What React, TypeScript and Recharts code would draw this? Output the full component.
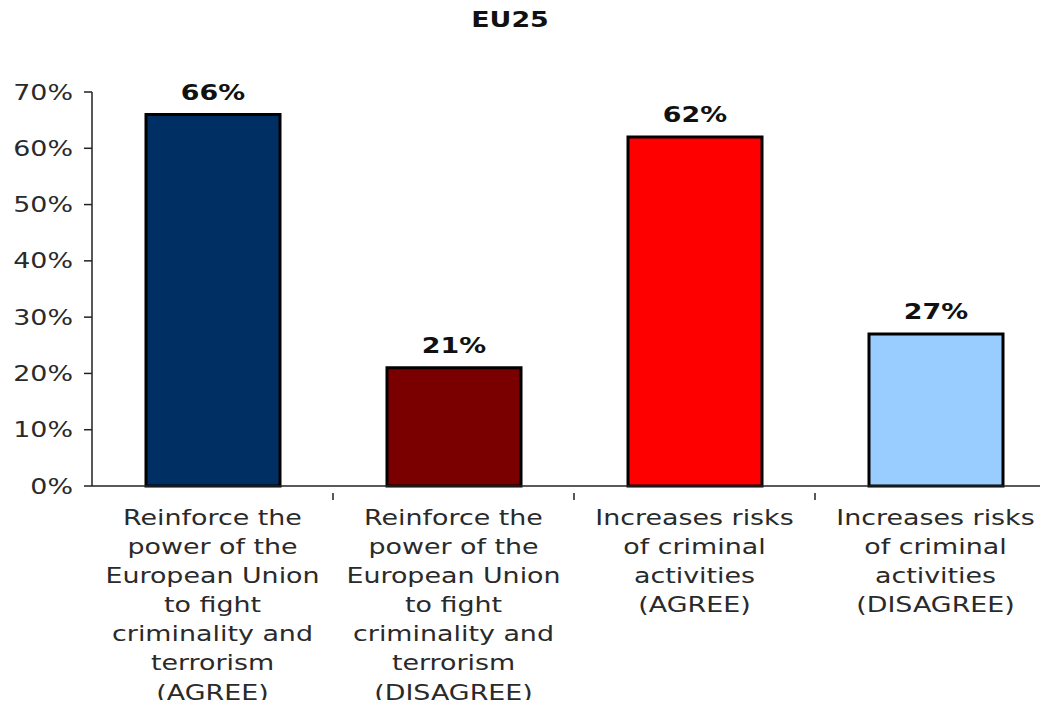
import React from "react";
import { BarChart, Bar, XAxis, YAxis, Cell, LabelList } from "recharts";

const categories = [
  ["Reinforce the", "power of the", "European Union", "to fight", "criminality and", "terrorism", "(AGREE)"],
  ["Reinforce the", "power of the", "European Union", "to fight", "criminality and", "terrorism", "(DISAGREE)"],
  ["Increases risks", "of criminal", "activities", "(AGREE)"],
  ["Increases risks", "of criminal", "activities", "(DISAGREE)"],
];
const values = [66, 21, 62, 27];
const yTicks = [0, 10, 20, 30, 40, 50, 60, 70];
const colors = ["#003063", "#7a0000", "#ff0000", "#99ccff"];

const data = values.map((v, i) => ({ name: String(i), value: v }));

const FONT = "Verdana, 'DejaVu Sans', sans-serif";
const SX = 1.28; // the reference text is drawn wide
const CHART_W = 1060;
const CHART_H = 708;
const PLOT_LEFT = 92;
const PLOT_RIGHT = 1056;
const band = (PLOT_RIGHT - PLOT_LEFT) / categories.length;

const CategoryTick = (props: any) => {
  const { x, y, payload, index } = props;
  const lines = categories[Number(payload.value)] || [];
  return (
    <g>
      {index < categories.length - 1 && (
        <line x1={x + band / 2} x2={x + band / 2} y1={y - 1} y2={y + 6} stroke="#222" strokeWidth={1.5} />
      )}
      <text
        transform={`translate(${x},${y}) scale(${SX},1)`}
        textAnchor="middle"
        fontFamily={FONT}
        fontSize={21}
        fill="#2a2a2a"
      >
        {lines.map((l, i) => (
          <tspan key={i} x={0} dy={i === 0 ? 31 : 29.1}>
            {l}
          </tspan>
        ))}
      </text>
    </g>
  );
};

const PercentTick = (props: any) => {
  const { x, y, payload } = props;
  return (
    <text
      transform={`translate(${x},${y}) scale(${SX},1)`}
      textAnchor="end"
      dy="0.36em"
      fontFamily={FONT}
      fontSize={21}
      fill="#2a2a2a"
    >
      {`${payload.value}%`}
    </text>
  );
};

const ValueLabel = (props: any) => {
  const { x, y, width, value } = props;
  return (
    <text
      transform={`translate(${x + width / 2},${y - 15}) scale(${SX},1)`}
      textAnchor="middle"
      fontFamily={FONT}
      fontSize={21}
      fontWeight="bold"
      fill="#111"
    >
      {`${value}%`}
    </text>
  );
};

const App = () => {
  return (
    <div style={{ margin: -8, width: 1048, height: 708, overflow: "hidden", position: "relative", background: "#fff" }}>
      <div
        style={{
          position: "absolute",
          left: 510,
          top: 8,
          transform: `translateX(-50%) scaleX(${SX})`,
          fontFamily: FONT,
          fontWeight: "bold",
          fontSize: 21,
          color: "#111",
          zIndex: 1,
        }}
      >
        EU25
      </div>
      <BarChart
        width={CHART_W}
        height={CHART_H}
        data={data}
        margin={{ top: 92, right: CHART_W - PLOT_RIGHT, bottom: 0, left: 0 }}
        barSize={134}
      >
        <XAxis
          dataKey="name"
          tickLine={false}
          axisLine={{ stroke: "#222", strokeWidth: 1.5 }}
          tick={<CategoryTick />}
          interval={0}
          height={222}
        />
        <YAxis
          domain={[0, 70]}
          ticks={yTicks}
          width={PLOT_LEFT}
          tickSize={8}
          tickMargin={11}
          axisLine={{ stroke: "#222", strokeWidth: 1.5 }}
          tickLine={{ stroke: "#222", strokeWidth: 1.5 }}
          tick={<PercentTick />}
          interval={0}
        />
        <Bar dataKey="value" stroke="#000" strokeWidth={3} isAnimationActive={false}>
          {data.map((_, i) => (
            <Cell key={i} fill={colors[i]} />
          ))}
          <LabelList dataKey="value" content={<ValueLabel />} />
        </Bar>
      </BarChart>
    </div>
  );
};

export default App;
